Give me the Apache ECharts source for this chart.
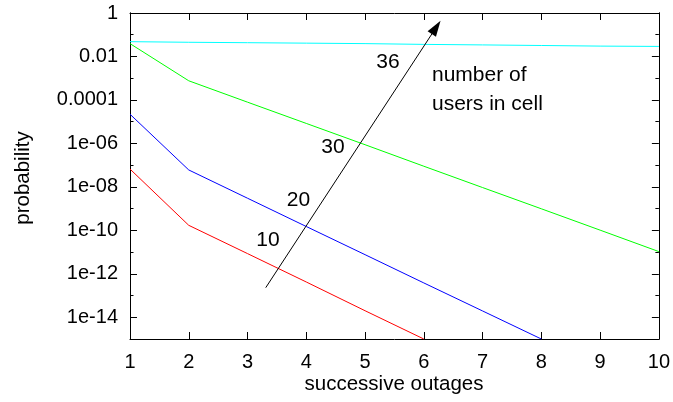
<!DOCTYPE html>
<html>
<head>
<meta charset="utf-8">
<script src="https://cdn.jsdelivr.net/npm/echarts@6/dist/echarts.min.js"></script>
<style>
    html, body { margin: 0; padding: 0; background: #fff; }
    #main { width: 673px; height: 402px; }
</style>
</head>
<body>
<div id="main"></div>
<script>
var outages = [1, 2, 3, 4, 5, 6, 7, 8, 9, 10];
var users10 = [6.6e-8, 1.7e-10, 8.5e-12, 4.2e-13, 2.0e-14, 1.0e-15];
var users20 = [2.2e-5, 6.0e-8, 3.0e-9, 1.5e-10, 7.6e-12, 3.8e-13, 1.95e-14, 1.0e-15];
var users30 = [3.9e-2, 7.6e-4, 7.9e-5, 8.3e-6, 8.7e-7, 8.9e-8, 9.3e-9, 9.8e-10, 1.02e-10, 1.05e-11];
var users36 = [0.048, 0.045, 0.043, 0.041, 0.039, 0.036, 0.034, 0.032, 0.030, 0.029];

var yTickValues = [1, 1e-2, 1e-4, 1e-6, 1e-8, 1e-10, 1e-12, 1e-14];
var yTickLabels = ['1', '0.01', '0.0001', '1e-06', '1e-08', '1e-10', '1e-12', '1e-14'];
var yMinorValues = [1e-1, 1e-3, 1e-5, 1e-7, 1e-9, 1e-11, 1e-13];

// arrow: start and end in data coords
var arrowFrom = [3.31, 2.3e-13];
var arrowTo = [6.21, 0.217];

var chartDom = document.getElementById('main');
var myChart = echarts.init(chartDom);

var font = 'Liberation Sans, Arial, sans-serif';

function pairs(values) {
    return values.map(function (v, i) { return [outages[i], v]; });
}

function yLabel(v) {
    for (var i = 0; i < yTickValues.length; i++) {
        if (Math.abs(Math.log10(v) - Math.log10(yTickValues[i])) < 1e-6) {
            return yTickLabels[i];
        }
    }
    return '';
}

function yAxisDef(position, ticks, len, showLabel) {
    return {
        type: 'log',
        logBase: 10,
        min: 1e-15,
        max: 1,
        position: position,
        axisLine: { show: true, onZero: false, lineStyle: { color: '#000', width: 1 } },
        axisTick: { show: true, inside: true, length: len, customValues: ticks, lineStyle: { color: '#000' } },
        axisLabel: {
            show: showLabel,
            customValues: ticks,
            formatter: yLabel,
            margin: 12,
            color: '#000',
            fontFamily: font,
            fontSize: 20
        },
        splitLine: { show: false },
        minorTick: { show: false }
    };
}

function lineSeries(name, values, color) {
    return {
        name: name,
        type: 'line',
        data: pairs(values),
        showSymbol: false,
        symbol: 'none',
        silent: true,
        lineStyle: { color: color, width: 1 },
        itemStyle: { color: color }
    };
}

function textItem(text, x, y, size, rotation, align) {
    return {
        type: 'text',
        x: x,
        y: y,
        rotation: rotation || 0,
        silent: true,
        style: {
            text: text,
            fill: '#000',
            font: size + 'px ' + font,
            align: align || 'center',
            verticalAlign: 'middle'
        }
    };
}

var option = {
    animation: false,
    grid: { left: 130, right: 14, top: 13, bottom: 63, containLabel: false },
    xAxis: [
        {
            type: 'value',
            min: 1,
            max: 10,
            interval: 1,
            position: 'bottom',
            axisLine: { show: true, onZero: false, lineStyle: { color: '#000' } },
            axisTick: { show: true, inside: true, length: 7, lineStyle: { color: '#000' } },
            axisLabel: { margin: 13, color: '#000', fontFamily: font, fontSize: 20 },
            splitLine: { show: false }
        },
        {
            type: 'value',
            min: 1,
            max: 10,
            interval: 1,
            position: 'top',
            axisLine: { show: true, onZero: false, lineStyle: { color: '#000' } },
            axisTick: { show: true, inside: true, length: 7, lineStyle: { color: '#000' } },
            axisLabel: { show: false },
            splitLine: { show: false }
        }
    ],
    yAxis: [
        yAxisDef('left', yTickValues, 7, true),
        yAxisDef('left', yMinorValues, 3.5, false),
        yAxisDef('right', yTickValues, 7, false),
        yAxisDef('right', yMinorValues, 3.5, false)
    ],
    series: [
        lineSeries('10', users10, '#ff0000'),
        lineSeries('20', users20, '#0000ff'),
        lineSeries('30', users30, '#00ff00'),
        lineSeries('36', users36, '#00ffff'),
        {
            type: 'line',
            data: [],
            silent: true,
            markLine: {
                silent: true,
                symbol: ['none', 'triangle'],
                symbolSize: [10, 16],
                label: { show: false },
                lineStyle: { color: '#000', width: 1, type: 'solid' },
                itemStyle: { color: '#000' },
                emphasis: { disabled: true },
                data: [[{ coord: arrowFrom }, { coord: arrowTo }]]
            }
        }
    ],
    graphic: [
        textItem('36', 388, 62.5, 21),
        textItem('30', 333, 147.5, 21),
        textItem('20', 298.5, 200.5, 21),
        textItem('10', 268, 240.5, 21),
        textItem('number of', 432, 75, 21, 0, 'left'),
        textItem('users in cell', 432, 104.5, 21, 0, 'left'),
        textItem('probability', 23, 178, 20.5, Math.PI / 2),
        textItem('successive outages', 394, 384, 20.5)
    ]
};

myChart.setOption(option);
</script>
</body>
</html>
